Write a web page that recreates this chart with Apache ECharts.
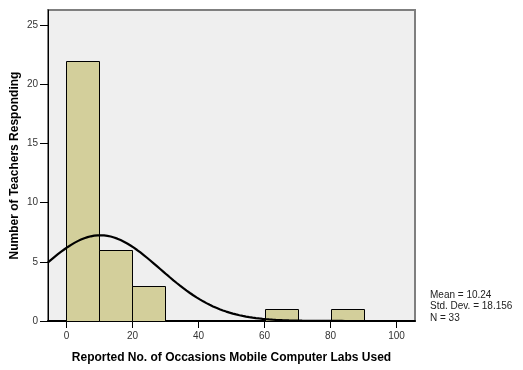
<!DOCTYPE html>
<html>
<head>
<meta charset="utf-8">
<script src="https://cdn.jsdelivr.net/npm/echarts@6/dist/echarts.min.js"></script>
<style>
  html, body { margin: 0; padding: 0; background: #ffffff; }
  #chart { width: 523px; height: 370px; }
</style>
</head>
<body>
<div id="chart"></div>
<script>
// Histogram bins (width 10) and teacher counts per bin
const binStarts = [0, 10, 20, 30, 40, 50, 60, 70, 80, 90];
const binWidth = 10;
const counts = [22, 6, 3, 0, 0, 0, 1, 0, 1, 0];

// Summary statistics shown beside the plot
const mean = 10.24;
const stdDev = 18.156;
const n = 33;

// Axis ticks
const xTicks = [0, 20, 40, 60, 80, 100];
const yTicks = [0, 5, 10, 15, 20, 25];

const xMin = -5.6, xMax = 105.6;
const yMin = 0, yMax = 26.3;

// Fitted normal curve scaled to counts per bin
const curve = [];
for (let x = xMin; x <= xMax + 1e-9; x += 0.5) {
  const z = (x - mean) / stdDev;
  const y = n * binWidth / (stdDev * Math.sqrt(2 * Math.PI)) * Math.exp(-0.5 * z * z);
  curve.push([x, y]);
}

const bins = binStarts.map((s, i) => [s, s + binWidth, counts[i]]).filter(d => d[2] > 0);

const chart = echarts.init(document.getElementById('chart'), null, { renderer: 'canvas' });
const font = 'Liberation Sans, Arial, sans-serif';

chart.setOption({
  animation: false,
  grid: {
    left: 48, right: 108, top: 10, bottom: 49,
    outerBoundsMode: 'none',
    containLabel: false,
    show: true,
    backgroundColor: '#efefef',
    borderColor: '#7f7f7f',
    borderWidth: 2
  },
  xAxis: {
    type: 'value',
    min: xMin, max: xMax,
    name: 'Reported No. of Occasions Mobile Computer Labs Used',
    nameLocation: 'middle',
    nameGap: 31,
    nameMoveOverlap: false,
    nameTextStyle: { fontFamily: font, fontWeight: 'bold', fontSize: 12, color: '#000' },
    axisLine: { show: true, onZero: false, lineStyle: { color: '#000', width: 2 } },
    axisTick: { show: true, length: 7, customValues: xTicks, lineStyle: { color: '#000', width: 1 } },
    axisLabel: { customValues: xTicks, fontFamily: font, fontSize: 10, color: '#333', margin: 10 },
    splitLine: { show: false }
  },
  yAxis: {
    type: 'value',
    min: yMin, max: yMax,
    name: 'Number of Teachers Responding',
    nameLocation: 'middle',
    nameGap: 27,
    nameMoveOverlap: false,
    nameTextStyle: { fontFamily: font, fontWeight: 'bold', fontSize: 12, color: '#000' },
    axisLine: { show: true, onZero: false, lineStyle: { color: '#000', width: 1 } },
    axisTick: { show: true, length: 8, customValues: yTicks, lineStyle: { color: '#000', width: 1 } },
    axisLabel: { customValues: yTicks, fontFamily: font, fontSize: 10, color: '#333', margin: 10 },
    splitLine: { show: false }
  },
  graphic: [{
    type: 'text',
    left: 430, top: 289,
    style: {
      text: 'Mean = ' + mean.toFixed(2) + '\nStd. Dev. = ' + stdDev.toFixed(3) + '\nN = ' + n,
      font: '10px ' + font,
      fill: '#222',
      lineHeight: 11.5
    }
  }],
  series: [{
    type: 'custom',
    data: bins,
    z: 2,
    renderItem: function (params, api) {
      const p0 = api.coord([api.value(0), api.value(2)]);
      const p1 = api.coord([api.value(1), 0]);
      return {
        type: 'rect',
        shape: { x: Math.round(p0[0]) + 0.5, y: Math.round(p0[1]) + 0.5,
                 width: Math.round(p1[0]) - Math.round(p0[0]),
                 height: Math.round(p1[1]) - Math.round(p0[1]) },
        style: { fill: '#d3cf9b', stroke: '#000', lineWidth: 1 }
      };
    }
  }, {
    type: 'line',
    data: curve,
    z: 3,
    showSymbol: false,
    symbol: 'none',
    clip: true,
    lineStyle: { color: '#000', width: 2.2 }
  }]
});
</script>
</body>
</html>
